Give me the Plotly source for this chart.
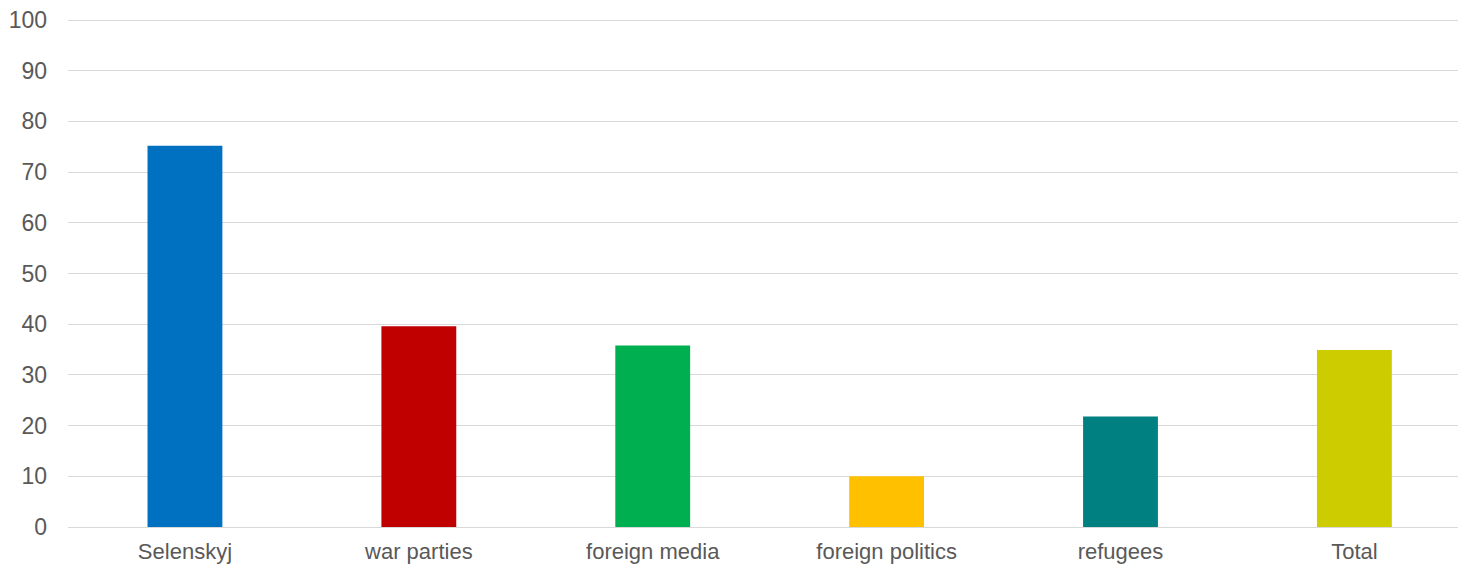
import plotly.graph_objects as go

categories = ["Selenskyj", "war parties", "foreign media", "foreign politics", "refugees", "Total"]
values = [75.2, 39.6, 35.8, 10.0, 21.8, 34.9]
colors = ["#0070C0", "#C00000", "#00B050", "#FFC000", "#008080", "#CCCC00"]
y_ticks = [0, 10, 20, 30, 40, 50, 60, 70, 80, 90, 100]

fig = go.Figure(go.Bar(
    x=categories, y=values, marker=dict(color=colors, line=dict(width=0)),
    width=0.32, hoverinfo="x+y"))

fig.update_layout(
    width=1458, height=568,
    margin=dict(l=68, r=0, t=19, b=41),
    paper_bgcolor="white", plot_bgcolor="white",
    showlegend=False,
    font=dict(family="Liberation Sans, Arial, sans-serif", size=23, color="#595959"),
)
fig.update_xaxes(
    type="category", range=[-0.5, 5.443], showgrid=False, showline=False,
    ticks="", tickfont=dict(size=22, color="#595959"), ticklabelstandoff=9,
    automargin=False, ticklabeloverflow="allow",
)
fig.update_yaxes(
    range=[0, 100.2], tickvals=y_ticks, showgrid=True, gridcolor="#d9d9d9", gridwidth=1.3,
    zeroline=True, zerolinecolor="#d9d9d9", zerolinewidth=1.3, showline=False,
    ticks="", tickfont=dict(size=23, color="#595959"), ticklabelstandoff=20,
    automargin=False, ticklabeloverflow="allow",
)

fig.write_html("out.html", config={"displayModeBar": False},
               post_script="document.body.style.margin='0';")
